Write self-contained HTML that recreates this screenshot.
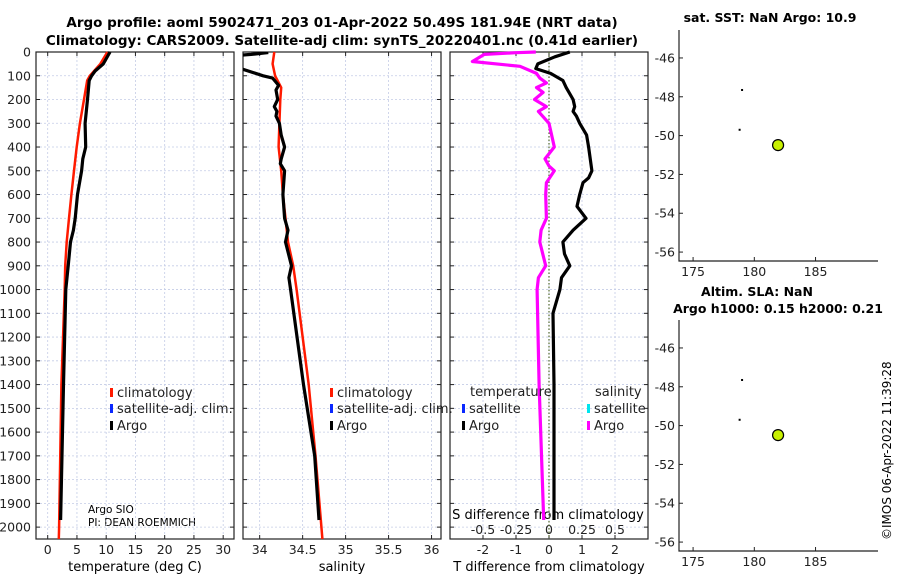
<!DOCTYPE html>
<html><head><meta charset="utf-8"><style>
body{margin:0;background:#fff;}
svg{font-family:"DejaVu Sans","Liberation Sans",sans-serif;}
</style></head><body>
<svg id="c" width="900" height="580" viewBox="0 0 900 580">
<defs><clipPath id="cp2"><rect x="243" y="52" width="198" height="487"/></clipPath></defs>
<text x="342" y="27" text-anchor="middle" font-weight="bold" font-size="13.5">Argo profile: aoml 5902471_203 01-Apr-2022 50.49S 181.94E (NRT data)</text>
<text x="342" y="45" text-anchor="middle" font-weight="bold" font-size="13.5">Climatology: CARS2009. Satellite-adj clim: synTS_20220401.nc (0.41d earlier)</text>
<text x="770" y="22" text-anchor="middle" font-weight="bold" font-size="12.5">sat. SST: NaN Argo: 10.9</text>
<text x="757" y="296" text-anchor="middle" font-weight="bold" font-size="12.5">Altim. SLA: NaN</text>
<text x="778" y="313" text-anchor="middle" font-weight="bold" font-size="12.5">Argo h1000: 0.15 h2000: 0.21</text>
<text transform="translate(891,540) rotate(-90)" font-size="12">©IMOS 06-Apr-2022 11:39:28</text>
<text x="135" y="571" text-anchor="middle" font-size="13">temperature (deg C)</text>
<text x="342" y="571" text-anchor="middle" font-size="13">salinity</text>
<text x="549" y="571" text-anchor="middle" font-size="13">T difference from climatology</text>
<text x="548" y="519" text-anchor="middle" font-size="13">S difference from climatology</text>
<text x="88" y="513" font-size="10.5">Argo SIO</text>
<text x="88" y="526" font-size="10.5">PI: DEAN ROEMMICH</text>
<g id="g"></g>
</svg>
<script>
// ---- data ----
const depthTicks=[0,100,200,300,400,500,600,700,800,900,1000,1100,1200,1300,1400,1500,1600,1700,1800,1900,2000];
const tTicks=[0,5,10,15,20,25,30];
const sTicks=[34,34.5,35,35.5,36];
const dTTicks=[-2,-1,0,1,2];
const dSTicks=[-0.5,-0.25,0,0.25,0.5];
const latTicks=[-46,-48,-50,-52,-54,-56];
const lonTicks=[175,180,185];
const argoTDepth=[0,50,80,100,120,200,300,400,450,500,600,700,750,800,900,1000,1400,1970];
const argoT=[10.65,9.5,8.1,7.5,7.1,6.8,6.4,6.5,6.0,5.8,5.1,4.7,4.4,3.9,3.5,3.1,2.7,2.2];
const climTDepth=[0,50,100,120,200,300,400,500,600,700,800,900,1000,1400,2000,2050];
const climT=[10.2,9.0,7.2,6.75,6.2,5.5,4.95,4.5,4.05,3.65,3.25,3.0,2.9,2.35,1.95,1.9];
const argoSDepth=[2,10,20,60,72,100,110,140,160,200,230,250,270,300,350,400,450,470,500,600,700,750,800,900,950,1000,1400,1700,1970];
const argoS=[34.1,33.9,33.5,33.5,33.8,34.04,34.15,34.22,34.19,34.21,34.17,34.2,34.19,34.23,34.25,34.29,34.25,34.24,34.29,34.27,34.29,34.33,34.3,34.37,34.34,34.36,34.51,34.64,34.69];
const climSDepth=[0,50,100,150,200,300,400,500,600,700,800,900,1000,1400,1700,2050];
const climS=[34.17,34.15,34.18,34.25,34.24,34.23,34.22,34.25,34.27,34.3,34.33,34.39,34.43,34.57,34.65,34.73];
const dTDepth=[0,20,50,70,90,120,150,200,230,250,270,300,350,400,500,530,550,600,650,700,750,800,850,900,950,1000,1100,1400,1970];
const dT=[0.63,0.18,-0.34,-0.4,0.05,0.42,0.52,0.73,0.78,0.73,0.83,0.93,1.14,1.2,1.3,1.2,1.03,0.93,0.85,1.12,0.73,0.42,0.47,0.63,0.38,0.33,0.12,0.15,0.15];
const dSDepth=[0,3,10,40,60,90,110,130,150,170,200,230,250,300,400,450,480,500,550,600,700,750,800,900,950,1000,1400,1970];
const dS=[-0.1,-0.25,-0.49,-0.58,-0.22,-0.095,-0.07,-0.02,-0.095,-0.045,-0.11,-0.02,-0.08,0,0.04,-0.03,0,0.04,-0.02,-0.025,-0.02,-0.06,-0.07,-0.025,-0.08,-0.09,-0.075,-0.04];
const obsLon=[179.0,178.8];
const obsLat=[-47.65,-49.7];
const argoLon=[181.94];
const argoLat=[-50.49];
// ---- layout ----
const NS='http://www.w3.org/2000/svg';
const G=document.getElementById('g');
function mk(t,a,p){const e=document.createElementNS(NS,t);for(const k in a)e.setAttribute(k,a[k]);(p||G).appendChild(e);return e;}
const Y0=52,Y1=539,D0=0,D1=2050;
const yD=d=>Y0+(d-D0)/(D1-D0)*(Y1-Y0);
const panels=[{x0:36,x1:234,v0:-2,v1:31.85},{x0:243,x1:441,v0:33.806,v1:36.11},{x0:450,x1:648,v0:-3,v1:3}];
const sx=(p,v)=>p.x0+(v-p.v0)/(p.v1-p.v0)*(p.x1-p.x0);
const grid='#c4cce6';
panels.forEach((p,i)=>{
  const xt=i==0?tTicks:i==1?sTicks:dTTicks;
  xt.forEach(v=>{const x=sx(p,v);
    let e=mk('line',{x1:x,x2:x,y1:Y0,y2:Y1,stroke:grid,'stroke-dasharray':'2,2','stroke-width':0.8});
    
    mk('line',{x1:x,x2:x,y1:Y1,y2:Y1-4,stroke:'#222'});mk('line',{x1:x,x2:x,y1:Y0,y2:Y0+4,stroke:'#222'});
    let t=mk('text',{x:x,y:554,'text-anchor':'middle','font-size':12.5,fill:'#222'});t.textContent=v;
    
  });
  depthTicks.forEach(d=>{const y=yD(d);
    let e=mk('line',{x1:p.x0,x2:p.x1,y1:y,y2:y,stroke:grid,'stroke-dasharray':'2,2','stroke-width':0.8});
    
    mk('line',{x1:p.x0,x2:p.x0+4,y1:y,y2:y,stroke:'#222'});mk('line',{x1:p.x1,x2:p.x1-4,y1:y,y2:y,stroke:'#222'});
    if(i==0){let t=mk('text',{x:31,y:y+4.5,'text-anchor':'end','font-size':12.5,fill:'#222'});t.textContent=d;
      }
  });
  let b=mk('rect',{x:p.x0,y:Y0,width:p.x1-p.x0,height:Y1-Y0,fill:'none',stroke:'#222','stroke-width':1.2});
  
});
dSTicks.forEach(v=>{const x=sx(panels[2],v*4);
  let t=mk('text',{x:x,y:534,'text-anchor':'middle','font-size':12.5,fill:'#222'});t.textContent=v;
  });
let z=mk('line',{x1:sx(panels[2],0),x2:sx(panels[2],0),y1:Y0,y2:Y1,stroke:'#556b2f','stroke-dasharray':'1.5,2','stroke-width':1.2});

function line(p,ds,vs,col,w,name,f,clip){
  const pts=ds.map((d,k)=>sx(p,f?f(vs[k]):vs[k]).toFixed(1)+','+yD(d).toFixed(1)).join(' ');
  let e=mk('polyline',{points:pts,fill:'none',stroke:col,'stroke-width':w,'stroke-linejoin':'round'});
  if(clip)e.setAttribute('clip-path','url(#'+clip+')');
  
}
line(panels[0],climTDepth,climT,'#ff1a00',2.5,'climatology-temperature-line');
line(panels[0],argoTDepth,argoT,'#000',3.2,'argo-temperature-line');
line(panels[1],climSDepth,climS,'#ff1a00',2.5,'climatology-salinity-line');
line(panels[1],argoSDepth,argoS,'#000',3.2,'argo-salinity-line',null,'cp2');
line(panels[2],dTDepth,dT,'#000',3.2,'t-difference-line');
line(panels[2],dSDepth,dS,'#ff00ff',3.2,'s-difference-line',v=>v*4);
function leg(x,y,col,txt,name){let r=mk('rect',{x:x,y:y-8,width:3,height:9,fill:col});
  
  if(txt){let t=mk('text',{x:x+7,y:y+1,'font-size':13,fill:'#222'});t.textContent=txt;
  }}
[[110,'legend'],[330,'legend-2']].forEach(([x,n])=>{
  leg(x,396,'#ff1a00','climatology',n+'-climatology');
  leg(x,412,'#0a28ff','satellite-adj. clim.',n+'-satellite-adj');
  leg(x,429,'#000','Argo',n+'-argo');});
let tt=mk('text',{x:470,y:396,'font-size':13,fill:'#222'});tt.textContent='temperature';

let st=mk('text',{x:595,y:396,'font-size':13,fill:'#222'});st.textContent='salinity';

leg(462,412,'#0a28ff','satellite','legend-temp-satellite');
leg(462,429,'#000','Argo','legend-temp-argo');
leg(587,412,'#00e5ee','satellite','legend-sal-satellite');
leg(587,429,'#ff00ff','Argo','legend-sal-argo');
function map(top,bot,name){
  const L=679,R=878,lo0=173.85,lo1=190.1;
  const la0=-44.56,la1=-56.46;
  const mx=v=>L+(v-lo0)/(lo1-lo0)*(R-L);
  const my=v=>top+(v-la0)/(la1-la0)*(bot-top);
  let a=mk('polyline',{points:`${L},${top} ${L},${bot} ${R},${bot}`,fill:'none',stroke:'#222','stroke-width':1.2});
  
  latTicks.forEach(v=>{const y=my(v);mk('line',{x1:L,x2:L+4,y1:y,y2:y,stroke:'#222'});
    let t=mk('text',{x:L-4,y:y+4.5,'text-anchor':'end','font-size':12.5,fill:'#222'});t.textContent=v;
    });
  lonTicks.forEach(v=>{const x=mx(v);mk('line',{x1:x,x2:x,y1:bot,y2:bot-4,stroke:'#222'});
    let t=mk('text',{x:x,y:bot+15,'text-anchor':'middle','font-size':12.5,fill:'#222'});t.textContent=v;
    });
  obsLon.forEach((v,k)=>{let e=mk('rect',{x:mx(v)-1,y:my(obsLat[k])-1,width:2,height:2,fill:'#000'});
    });
  argoLon.forEach((v,k)=>{let e=mk('circle',{cx:mx(v),cy:my(argoLat[k]),r:5.5,fill:'#c8f000',stroke:'#000','stroke-width':1.2});
    });
}
map(30,261,'sst-map');
map(320,551,'sla-map');
</script>
</body></html>
